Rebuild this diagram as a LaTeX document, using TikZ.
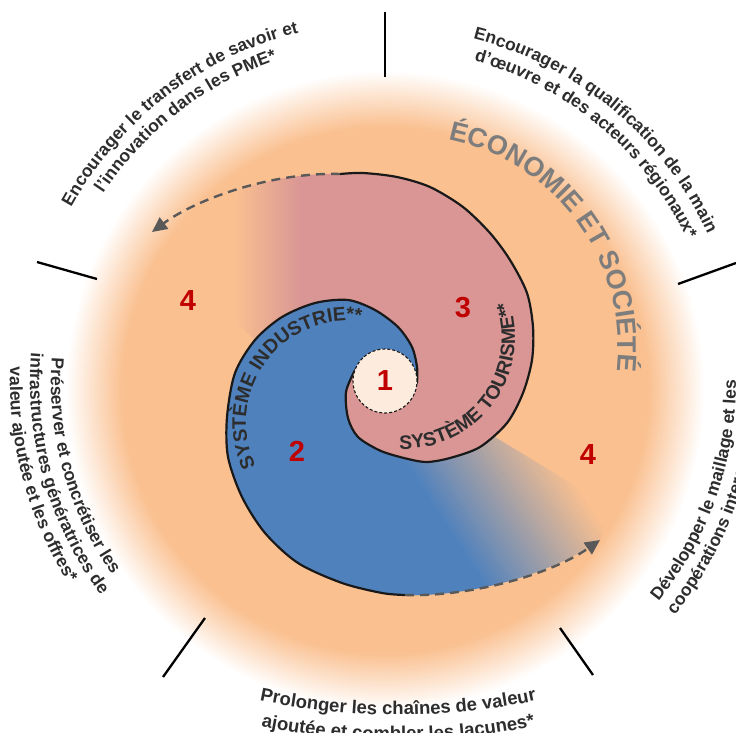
\documentclass[tikz,border=0pt]{standalone}
\usepackage{fontspec}
\setmainfont{Liberation Sans}
\usetikzlibrary{decorations.text,arrows.meta}
\definecolor{peach}{RGB}{250,192,144}
\definecolor{pinkc}{RGB}{217,150,148}
\definecolor{bluec}{RGB}{79,129,189}
\definecolor{cream}{RGB}{253,236,222}
\definecolor{redc}{RGB}{192,0,0}
\definecolor{labelc}{RGB}{45,45,45}
\definecolor{econc}{RGB}{125,125,125}
\definecolor{dashc}{RGB}{89,89,89}
\definecolor{linec}{RGB}{25,25,25}
\pgfdeclareradialshading{glow}{\pgfpoint{0bp}{0bp}}{color(0bp)=(peach); color(262bp)=(peach); color(318bp)=(white); color(330bp)=(white)}
\newcommand\ArcLabel[6]{\path[shift={(#1,#2)}, decorate, decoration={text along path, text align=center, text={#6}}] (#4:#3) arc[start angle=#4, end angle=#5, radius=#3];}
\newcommand\LblFont{\fontsize{17.5}{20}\selectfont\bfseries}
\newcommand\BotFont{\fontsize{18.5}{20}\selectfont\bfseries}
\newcommand\EconFont{\fontsize{27}{28}\selectfont\bfseries}
\newcommand\SysFont{\fontsize{19.5}{20}\selectfont\bfseries}
\newcommand\NumFont{\fontsize{29}{30}\selectfont\bfseries}
\tikzset{
  spiral/.style={draw=linec, line width=2.2pt, line cap=round},
  dasharrow/.style={draw=dashc, line width=2.4pt, dash pattern=on 9pt off 6pt, -{Triangle[length=15pt,width=14pt]}},
  spoke/.style={draw=black, line width=2.3pt},
  num/.style={font=\NumFont, text=redc, inner sep=0pt},
}
\begin{document}
\begin{tikzpicture}[x=1pt,y=1pt]
\useasboundingbox (0,0) rectangle (736,-733);
\fill[white] (0,0) rectangle (736,-733);
\node[inner sep=0pt, outer sep=0pt] (glow) at (385,-390) {\pgfuseshading{glow}};

% pink zone
\begin{scope}
\clip (417,-383) arc[start angle=-3.6, end angle=-200.1, radius=32]
  -- plot[smooth] coordinates {(355,-370) (346,-392) (348,-418) (358,-437) (381,-451) (408,-459) (427,-462) (450,-458) (480,-447) (507,-423) (523,-393) (532,-360) (533,-327) (527,-293) (510,-260) (490,-233) (463,-207) (430,-187) (397,-177) (363,-173) (340,-174)}
  .. controls (270,-172) and (195,-200) .. (152,-232) -- (200,-290)
  -- plot[smooth] coordinates {(255,-340) (282,-317) (315,-303) (348,-300) (375,-310) (398,-327) (412,-347) (417,-367) (417,-383)} -- cycle;
\fill[pinkc] (300,-140) rectangle (560,-480);
\shade[left color=peach, right color=pinkc] (235,-140) rectangle (300.5,-480);
\end{scope}

% blue zone
\begin{scope}
\clip (355,-370) arc[start angle=159.9, end angle=-3.6, radius=32]
  -- plot[smooth] coordinates {(417,-383) (417,-367) (412,-347) (398,-327) (375,-310) (348,-300) (315,-303) (282,-317) (255,-340) (235,-373) (227,-417) (228,-457) (242,-497) (265,-533) (298,-563) (342,-583) (382,-593) (405,-595)}
  .. controls (470,-597) and (550,-575) .. (600,-540) -- (612,-508) -- (495,-437)
  -- plot[smooth] coordinates {(480,-447) (450,-458) (427,-462) (408,-459) (381,-451) (358,-437) (348,-418) (346,-392) (355,-370)} -- cycle;
\fill[bluec] (200,-280) rectangle (430,-620);
\clip (0,-400) rectangle (736,-733);
\begin{scope}[rotate=33]
\fill[bluec] (-300,-1000) rectangle (86.5,0);
\foreach \k [evaluate=\k as \p using 100-2.5*\k] in {0,...,39}
  {\fill[bluec!\p!peach] ({86+3.3*\k},-1000) rectangle ({89.6+3.3*\k},0);}
\end{scope}
\end{scope}

% spiral outlines
\draw[spiral] plot[smooth] coordinates {(417,-383) (417,-367) (412,-347) (398,-327) (375,-310) (348,-300) (315,-303) (282,-317) (255,-340) (235,-373) (227,-417) (228,-457) (242,-497) (265,-533) (298,-563) (342,-583) (382,-593) (405,-595)};
\draw[spiral] plot[smooth] coordinates {(355,-370) (346,-392) (348,-418) (358,-437) (381,-451) (408,-459) (427,-462) (450,-458) (480,-447) (507,-423) (523,-393) (532,-360) (533,-327) (527,-293) (510,-260) (490,-233) (463,-207) (430,-187) (397,-177) (363,-173) (340,-174)};

% dashed arrows
\coordinate (s1end) at (405,-595);
\coordinate (tipB) at (600,-540);
\coordinate (s2end) at (340,-174);
\coordinate (tipT) at (152,-232);
\draw[dasharrow] (s2end) .. controls (270,-172) and (195,-200) .. (tipT);
\draw[dasharrow] (s1end) .. controls (470,-597) and (550,-575) .. (tipB);

% centre circle
\node[circle, draw=linec, dash pattern=on 3pt off 2pt, line width=1.1pt, fill=cream, minimum size=64pt, inner sep=0pt, font=\NumFont, text=redc] (one) at (385,-381) {1};

% numbers
\node[num] (n2) at (297,-451) {2};
\node[num] (n3) at (463,-308) {3};
\node[num] (n4l) at (188,-301) {4};
\node[num] (n4r) at (588,-455) {4};

% spiral labels
\ArcLabel{348}{-423}{102}{215}{72.7}{|\SysFont\color{labelc}|SYSTÈME INDUSTRIE**}
\ArcLabel{404}{-338}{111}{-100}{27}{|\SysFont\color{labelc}|SYSTÈME TOURISME**}

% economie
\ArcLabel{406}{-347}{212}{92}{-20}{|\EconFont\color{econc}|ÉCONOMIE ET SOCIÉTÉ}

% outer labels
\ArcLabel{386}{-382}{360}{160}{95}{|\LblFont\color{labelc}|Encourager le transfert de savoir et}
\ArcLabel{386}{-382}{340}{160}{95}{|\LblFont\color{labelc}|l’innovation dans les PME*}
\ArcLabel{386}{-382}{354}{85}{15.5}{|\LblFont\color{labelc}|Encourager la qualification de la main}
\ArcLabel{386}{-382}{333}{85}{15}{|\LblFont\color{labelc}|d’œuvre et des acteurs régionaux*}
\ArcLabel{386}{-382}{350}{-55}{16.4}{|\LblFont\color{labelc}|Développer le maillage et les}
\ArcLabel{386}{-382}{371}{-55}{16.4}{|\LblFont\color{labelc}|coopérations interentreprises*}
\ArcLabel{386}{-382}{335}{160}{231}{|\LblFont\color{labelc}|Préserver et concrétiser les}
\ArcLabel{386}{-382}{356}{160}{232}{|\LblFont\color{labelc}|infrastructures génératrices de}
\ArcLabel{386}{-382}{376}{160}{230}{|\LblFont\color{labelc}|valeur ajoutée et les offres*}
\ArcLabel{398}{-47}{668}{248}{292}{|\BotFont\color{labelc}|Prolonger les chaînes de valeur}
\ArcLabel{398}{-47}{693}{248}{292}{|\BotFont\color{labelc}|ajoutée et combler les lacunes*}

% spokes
\draw[spoke] (385,-12) -- (385,-77);
\draw[spoke] (678,-284) -- (736,-263);
\draw[spoke] (37,-262) -- (97,-279);
\draw[spoke] (205,-618) -- (163,-677);
\draw[spoke] (560,-628) -- (593,-675);
\end{tikzpicture}
\end{document}
